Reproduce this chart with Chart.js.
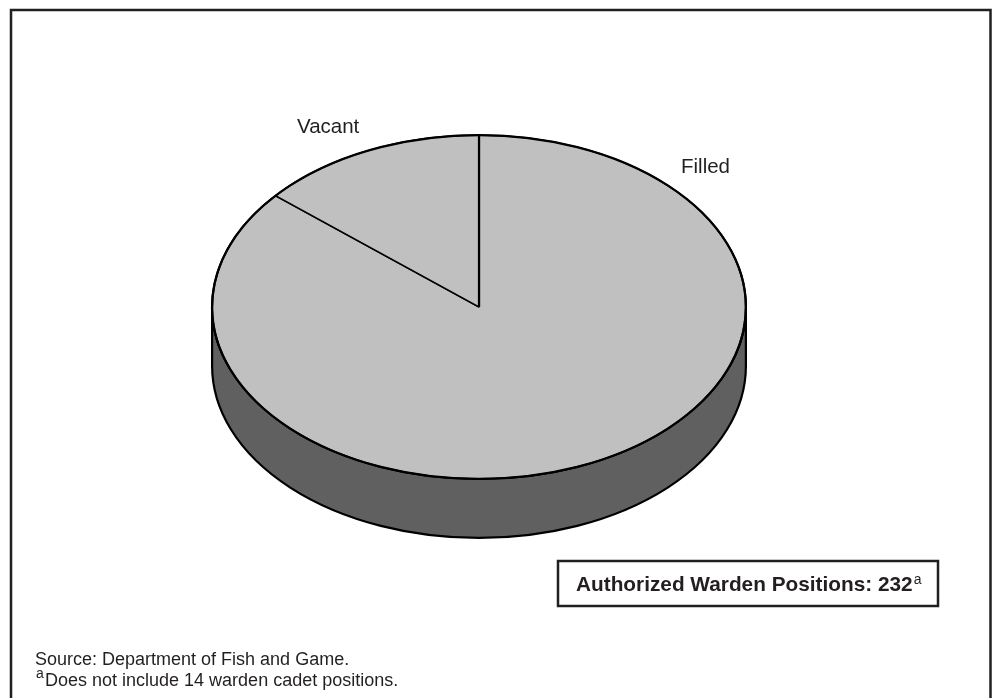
<!DOCTYPE html>
<html>
<head>
<meta charset="utf-8">
<script src="https://cdn.jsdelivr.net/npm/chart.js@4/dist/chart.umd.min.js"></script>
<style>
  html, body { margin: 0; padding: 0; background: #fff; }
  #wrap { width: 992px; height: 698px; position: relative; }
</style>
</head>
<body>
<div id="wrap"><canvas id="pie" width="992" height="698"></canvas></div>
<script>
const categories = ['Filled', 'Vacant'];
const positions = [200, 32];
const sliceColors = ['#c0c0c0', '#c0c0c0'];
const sideColor = '#606060';
const totalLabel = 'Authorized Warden Positions: 232';
const sourceNote = 'Source: Department of Fish and Game.';
const footNote = 'Does not include 14 warden cadet positions.';

// tilt of the pie (vertical squash) and thickness of the side
const tilt = 172 / 267;
const depth = 59;
const font = '"Liberation Sans", Arial, Helvetica, sans-serif';
const ink = '#231f20';

function centerOf(chart) {
    const arc = chart.getDatasetMeta(0).data[0];
    return { x: arc.x, y: arc.y, r: arc.outerRadius };
}

const pie3d = {
    id: 'pie3d',
    beforeDatasetsDraw(chart) {
        const ctx = chart.ctx;
        const c = centerOf(chart);
        const ry = c.r * tilt;
        const arcs = chart.getDatasetMeta(0).data;

        // side wall, only for the front half
        ctx.save();
        arcs.forEach((arc) => {
            const s = Math.max(arc.startAngle, 0);
            const e = Math.min(arc.endAngle, Math.PI);
            if (e <= s) return;
            ctx.beginPath();
            ctx.ellipse(c.x, c.y, c.r, ry, 0, s, e, false);
            ctx.lineTo(c.x + c.r * Math.cos(e), c.y + ry * Math.sin(e) + depth);
            ctx.ellipse(c.x, c.y + depth, c.r, ry, 0, e, s, true);
            ctx.closePath();
            ctx.fillStyle = sideColor;
            ctx.fill();
            ctx.lineWidth = 2.2;
            ctx.strokeStyle = '#000';
            ctx.stroke();
        });
        ctx.restore();

        // squash the top face
        ctx.save();
        ctx.translate(0, c.y);
        ctx.scale(1, tilt);
        ctx.translate(0, -c.y);
    },
    afterDatasetsDraw(chart) {
        const ctx = chart.ctx;
        ctx.restore();
        // even outline of the top face
        const c = centerOf(chart);
        ctx.save();
        ctx.beginPath();
        ctx.ellipse(c.x, c.y, c.r, c.r * tilt, 0, 0, Math.PI * 2);
        ctx.lineWidth = 2.2;
        ctx.strokeStyle = '#000';
        ctx.stroke();
        ctx.restore();
    },
    afterDraw(chart) {
        const ctx = chart.ctx;
        const c = centerOf(chart);
        ctx.save();
        ctx.fillStyle = ink;
        ctx.textBaseline = 'alphabetic';

        // slice labels
        ctx.font = '20.5px ' + font;
        ctx.fillText(categories[1], c.x - 182, c.y - 174);
        ctx.fillText(categories[0], c.x + 202, c.y - 134);

        // outer frame
        ctx.strokeStyle = ink;
        ctx.lineWidth = 2.5;
        ctx.strokeRect(11, 10, 979.5, 700);

        // total box
        ctx.strokeRect(558, 561, 380, 45);
        ctx.font = 'bold 20.8px ' + font;
        ctx.fillText(totalLabel, 576, 591);
        const w = ctx.measureText(totalLabel).width;
        ctx.font = '14px ' + font;
        ctx.fillText('a', 576 + w + 1, 584);

        // source and footnote
        ctx.font = '18px ' + font;
        ctx.fillText(sourceNote, 35, 665);
        ctx.font = '14px ' + font;
        ctx.fillText('a', 36, 678);
        ctx.font = '18px ' + font;
        ctx.fillText(footNote, 45, 686);
        ctx.restore();
    }
};

new Chart(document.getElementById('pie'), {
    type: 'pie',
    data: {
        labels: categories,
        datasets: [{
            data: positions,
            backgroundColor: sliceColors,
            borderColor: '#000',
            borderWidth: 2.2,
            hoverOffset: 0
        }]
    },
    options: {
        responsive: false,
        animation: false,
        events: [],
        layout: { padding: { left: 211, right: 245, top: 39, bottom: 123 } },
        plugins: {
            legend: { display: false },
            tooltip: { enabled: false }
        }
    },
    plugins: [pie3d]
});
</script>
</body>
</html>
